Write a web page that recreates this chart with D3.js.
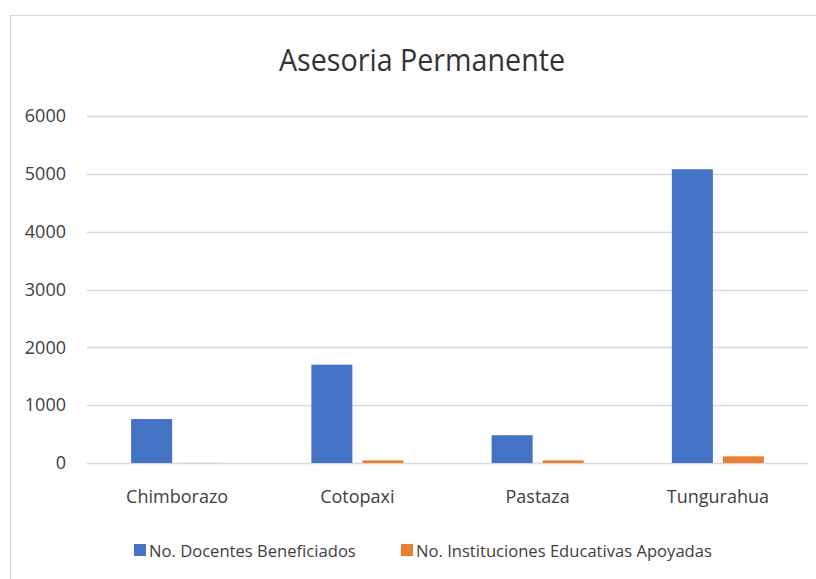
<!DOCTYPE html>
<html>
<head>
<meta charset="utf-8">
<script src="https://cdn.jsdelivr.net/npm/d3@7"></script>
<style>
body { margin:0; background:#fff; }
text { font-family: "Open Sans", sans-serif; fill:#404040; }
</style>
</head>
<body>
<svg id="chart"></svg>
<script>
var categories = ["Chimborazo","Cotopaxi","Pastaza","Tungurahua"];
var seriesNames = ["No. Docentes Beneficiados","No. Instituciones Educativas Apoyadas"];
var docentes = [760, 1700, 480, 5080];
var instituciones = [3, 45, 45, 115];
var yTicks = [0,1000,2000,3000,4000,5000,6000];
var colors = ["#4472C4","#ED7D31"];

var screen = {width:816, height:579};
var margins = {top:116, left:87, right:8, bottom:116};
var graph = {
    width: screen.width-margins.left-margins.right,
    height: 463-margins.top
};

var svg = d3.select("#chart")
    .attr("width",screen.width)
    .attr("height",screen.height);

// chart frame
svg.append("rect")
    .attr("x",10.5).attr("y",15.5)
    .attr("width",900).attr("height",700)
    .attr("fill","none").attr("stroke","#d9d9d9");

svg.append("text")
    .text("Asesoria Permanente")
    .attr("x",422).attr("y",71)
    .attr("text-anchor","middle")
    .attr("font-size",31)
    .attr("textLength",286)
    .attr("lengthAdjust","spacingAndGlyphs")
    .style("fill","#333");

var g = svg.append("g")
    .attr("transform","translate("+margins.left+","+margins.top+")");

var xScale = d3.scaleBand()
    .domain(categories)
    .range([0,graph.width])
    .padding(0);

var groupWidth = 92;
var x1 = d3.scaleBand()
    .domain([0,1])
    .range([0,groupWidth])
    .paddingInner(0.196);

var yScale = d3.scaleLinear()
    .domain([0,6000])
    .range([graph.height,0]);

// gridlines
g.selectAll(".grid")
    .data(yTicks)
    .enter()
    .append("line")
    .attr("x1",0).attr("x2",graph.width)
    .attr("y1",function(d){return Math.round(yScale(d))+0.5})
    .attr("y2",function(d){return Math.round(yScale(d))+0.5})
    .attr("stroke","#d9d9d9")
    .attr("stroke-width",1.5);

// y axis labels
var yAxis = d3.axisLeft(yScale).tickValues(yTicks).tickFormat(d3.format("d")).tickSize(0).tickPadding(21);
var ya = g.append("g").call(yAxis);
ya.select(".domain").remove();
ya.selectAll("text")
    .attr("font-size",18)
    .style("font-family","'Open Sans', sans-serif")
    .style("fill","#404040");

var data = categories.map(function(c,i){ return [docentes[i], instituciones[i]]; });

var groups = g.selectAll(".cat")
    .data(data)
    .enter()
    .append("g")
    .attr("transform",function(d,i){
        return "translate("+(xScale(categories[i])+(xScale.bandwidth()-groupWidth)/2)+",0)";
    });

groups.selectAll("rect")
    .data(function(d){return d;})
    .enter()
    .append("rect")
    .attr("x",function(d,j){return x1(j)})
    .attr("width",x1.bandwidth())
    .attr("y",function(d){return yScale(d)})
    .attr("height",function(d){return graph.height-yScale(d)})
    .attr("fill",function(d,j){return colors[j]});

// x axis labels
var xAxis = d3.axisBottom(xScale).tickSize(0).tickPadding(27);
var xa = g.append("g")
    .attr("transform","translate(0,"+graph.height+")")
    .call(xAxis);
xa.select(".domain").remove();
xa.selectAll("text")
    .attr("font-size",18)
    .style("font-family","'Open Sans', sans-serif")
    .style("fill","#404040");

// legend
var legendX = [134, 401];
var legend = svg.selectAll(".legend")
    .data(seriesNames)
    .enter()
    .append("g")
    .attr("transform",function(d,i){return "translate("+legendX[i]+",544)"});
legend.append("rect")
    .attr("width",12).attr("height",12)
    .attr("fill",function(d,i){return colors[i]});
legend.append("text")
    .text(function(d){return d})
    .attr("x",15).attr("y",13)
    .attr("font-size",16.6);
</script>
</body>
</html>
